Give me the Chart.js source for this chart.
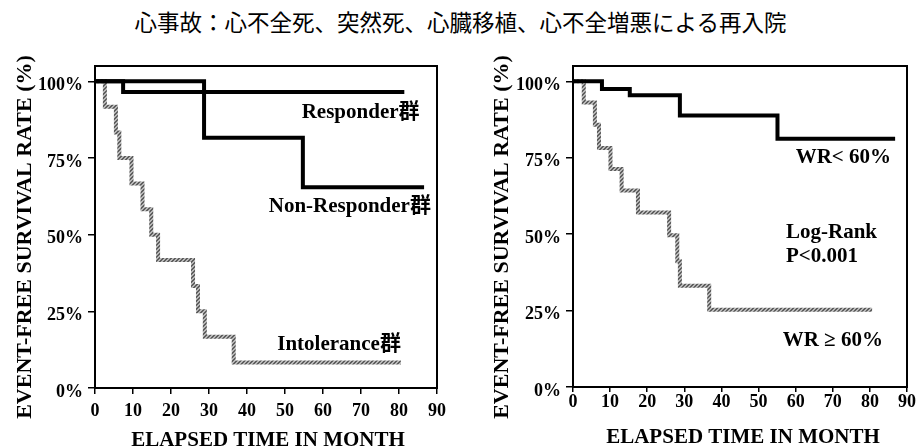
<!DOCTYPE html>
<html><head><meta charset="utf-8">
<script src="https://cdn.jsdelivr.net/npm/chart.js@4.4.1/dist/chart.umd.min.js"></script>
<style>
html,body{margin:0;padding:0;background:#fff;width:921px;height:447px;overflow:hidden}
#title{position:absolute;left:0;top:5px;width:921px;text-align:center;font-family:"Noto Sans CJK JP",sans-serif;font-size:22.5px;line-height:32px;color:#000;white-space:nowrap}
#c1{position:absolute;left:0;top:0}
#c2{position:absolute;left:460px;top:0}
</style></head><body>
<div id="title">心事故：心不全死、突然死、心臓移植、心不全増悪による再入院</div>
<canvas id="c1" width="460" height="447"></canvas>
<canvas id="c2" width="461" height="447"></canvas>
<script>
// ---- tick labels ----
const monthTicks = [0, 10, 20, 30, 40, 50, 60, 70, 80, 90];
const rateTicks = [0, 25, 50, 75, 100];

// ---- left panel: series (months, %) ----
const responderTime = [0, 7.4, 81.4];
const responderRate = [100, 96.5, 96.5];
const nonResponderTime = [0, 28.7, 54.7, 86.6];
const nonResponderRate = [100, 81.6, 65.5, 65.5];
const intoleranceTime = [0, 2.6, 5.5, 6.4, 9.6, 12.5, 14.8, 16.6, 25.8, 27.1, 28.9, 36.5, 80.5];
const intoleranceRate = [100, 91.7, 83.3, 75, 66.7, 58.3, 50, 41.7, 33.3, 25, 16.7, 8.3, 8.3];

// ---- right panel: series (months, %) ----
const wrLowTime = [0, 7.8, 15.3, 28.8, 55.1, 86.8];
const wrLowRate = [100, 97.5, 95.4, 88.8, 81.2, 81.2];
const wrHighTime = [0, 2.9, 5.9, 7.0, 10.1, 13.1, 17.5, 25.9, 28.1, 28.8, 36.7, 80.6];
const wrHighRate = [100, 93.1, 85.8, 78.2, 71.3, 64.3, 57.1, 49.6, 41.1, 33.1, 25.3, 25.3];

const SERIF = '"Liberation Serif", "Times New Roman", "Noto Sans CJK JP", serif';

function pts(t, r) { return t.map((v, i) => ({ x: v, y: r[i] })); }

// textured gray pattern for the intolerance / WR>=60 curves
const pc = document.createElement('canvas'); pc.width = 4; pc.height = 4;
const pctx = pc.getContext('2d');
for (let x = 0; x < 4; x++) for (let y = 0; y < 4; y++) {
  pctx.fillStyle = ((x + y) % 4) < 2 ? '#5e5e5e' : '#b8b8b8';
  pctx.fillRect(x, y, 1, 1);
}
const grayPattern = pctx.createPattern(pc, 'repeat');

function blackLine(t, r) {
  return { data: pts(t, r), stepped: true, borderColor: '#000', borderWidth: 4, pointRadius: 0, fill: false, borderCapStyle: 'butt', borderJoinStyle: 'miter' };
}
function grayLine(t, r) {
  return { data: pts(t, r), stepped: true, borderColor: grayPattern, borderWidth: 4, pointRadius: 0, fill: false, borderCapStyle: 'butt', borderJoinStyle: 'miter' };
}

function decoPlugin(cfg) {
  return {
    id: 'deco',
    afterDraw(chart) {
      const ctx = chart.ctx, a = chart.chartArea;
      const xs = chart.scales.x, ys = chart.scales.y;
      ctx.save();
      ctx.strokeStyle = '#000'; ctx.lineWidth = 2;
      ctx.strokeRect(a.left, a.top, a.right - a.left, a.bottom - a.top);
      ctx.fillStyle = '#000';
      // y title
      ctx.font = 'bold 22px ' + SERIF;
      ctx.save();
      ctx.translate(cfg.yTitleX, cfg.yTitleY);
      ctx.rotate(-Math.PI / 2);
      ctx.textAlign = 'center'; ctx.textBaseline = 'alphabetic';
      ctx.fillText('EVENT-FREE SURVIVAL RATE (%)', 0, 0);
      ctx.restore();
      // x title
      ctx.font = 'bold 21px ' + SERIF;
      ctx.textAlign = 'center'; ctx.textBaseline = 'alphabetic';
      ctx.fillText('ELAPSED TIME IN MONTH', cfg.xTitleX, cfg.xTitleY);
      // annotations
      ctx.font = 'bold 21px ' + SERIF;
      cfg.notes.forEach(n => {
        ctx.textAlign = n.align;
        ctx.fillText(n.text, xs.getPixelForValue(n.x), ys.getPixelForValue(n.y) + 7);
      });
      ctx.restore();
    }
  };
}

function makeChart(id, datasets, o) {
  const tickFont = { family: SERIF, size: 18, weight: 'bold' };
  return new Chart(document.getElementById(id), {
    type: 'line',
    data: { datasets },
    options: {
      responsive: false, animation: false, devicePixelRatio: 1,
      layout: { padding: { left: 0, right: o.padRight, top: o.padTop, bottom: 0 } },
      plugins: { legend: { display: false }, tooltip: { enabled: false } },
      scales: {
        x: {
          type: 'linear', min: 0, max: 90,
          afterBuildTicks: s => { s.ticks = monthTicks.map(v => ({ value: v })); },
          afterFit: s => { s.height = o.xHeight; },
          grid: { drawOnChartArea: false, drawTicks: true, tickLength: o.xTickLen, color: '#000', lineWidth: 1.5 },
          border: { display: true, color: '#000', width: 2 },
          ticks: { color: '#000', font: tickFont, padding: o.xPad, maxRotation: 0, autoSkip: false }
        },
        y: {
          type: 'linear', min: 0, max: 105,
          afterBuildTicks: s => { s.ticks = rateTicks.map(v => ({ value: v })); },
          afterFit: s => { s.width = o.yWidth; },
          grid: { drawOnChartArea: false, drawTicks: true, tickLength: 7, color: '#000', lineWidth: 1.5 },
          border: { display: true, color: '#000', width: 2 },
          ticks: { color: '#000', font: tickFont, padding: 5, labelOffset: 4, callback: v => v + '%' }
        }
      }
    },
    plugins: [decoPlugin(o)]
  });
}

makeChart('c1', [
  blackLine(responderTime, responderRate),
  blackLine(nonResponderTime, nonResponderRate),
  grayLine(intoleranceTime, intoleranceRate)
], {
  padRight: 23, padTop: 66, xHeight: 59, yWidth: 95, xTickLen: 6, xPad: 7,
  yTitleX: 30.5, yTitleY: 237, xTitleX: 268, xTitleY: 446,
  notes: [
    { text: 'Responder群', x: 85.4, y: 90.2, align: 'right' },
    { text: 'Non-Responder群', x: 88.4, y: 59.8, align: 'right' },
    { text: 'Intolerance群', x: 80.5, y: 14.7, align: 'right' }
  ]
});

makeChart('c2', [
  blackLine(wrLowTime, wrLowRate),
  grayLine(wrHighTime, wrHighRate)
], {
  padRight: 14, padTop: 66, xHeight: 60, yWidth: 113, xTickLen: 5, xPad: 0,
  yTitleX: 47.5, yTitleY: 237, xTitleX: 283, xTitleY: 443,
  notes: [
    { text: 'WR< 60%', x: 85.7, y: 75.4, align: 'right' },
    { text: 'Log-Rank', x: 57.4, y: 51.1, align: 'left' },
    { text: 'P<0.001', x: 57.4, y: 43.3, align: 'left' },
    { text: 'WR ≥ 60%', x: 83.5, y: 15.8, align: 'right' }
  ]
});
</script>
</body></html>
